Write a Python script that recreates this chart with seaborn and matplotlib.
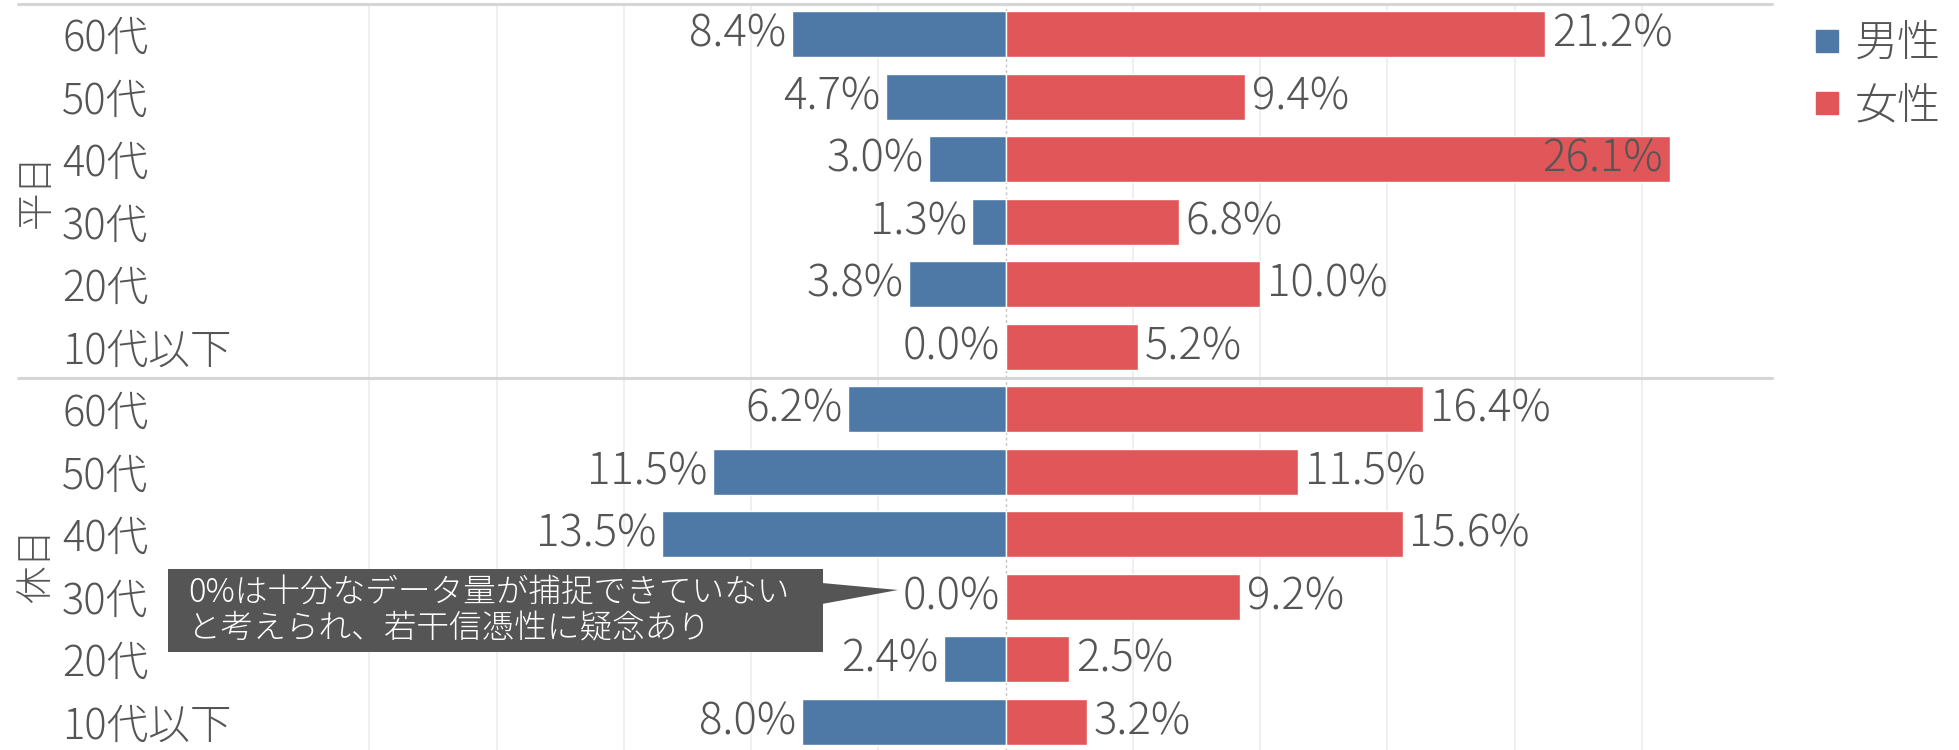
import pandas as pd
import matplotlib
matplotlib.use("Agg")
import matplotlib.pyplot as plt
from matplotlib.lines import Line2D
from matplotlib.patches import Rectangle, Polygon
import seaborn as sns

# ---- data -------------------------------------------------------------
ages = ["60代", "50代", "40代", "30代", "20代", "10代以下"]
groups = ["平日", "休日"]
sexes = ["男性", "女性"]
weekday_male = [8.4, 4.7, 3.0, 1.3, 3.8, 0.0]
weekday_female = [21.2, 9.4, 26.1, 6.8, 10.0, 5.2]
holiday_male = [6.2, 11.5, 13.5, 0.0, 2.4, 8.0]
holiday_female = [16.4, 11.5, 15.6, 9.2, 2.5, 3.2]
note_text = "0%は十分なデータ量が捕捉できていない\nと考えられ、若干信憑性に疑念あり"

BLUE = "#4e79a7"
RED = "#e15759"
TEXT = "#555555"

series = {
    "平日": (weekday_male, weekday_female),
    "休日": (holiday_male, holiday_female),
}
records = []
for g in groups:
    male, female = series[g]
    for a, m, f in zip(ages, male, female):
        records.append({"group": g, "age": a, "sex": "男性", "value": m, "signed": -m})
        records.append({"group": g, "age": a, "sex": "女性", "value": f, "signed": f})
df = pd.DataFrame(records)

# ---- style ------------------------------------------------------------
sns.set_theme(style="white")
plt.rcParams["font.family"] = ["Noto Sans CJK JP", "DejaVu Sans"]
plt.rcParams["font.weight"] = "light"

W, H = 1959, 750


def fx(px):
    return px / W


def fy(py):
    return 1 - py / H


fig = plt.figure(figsize=(W / 100, H / 100), dpi=100)

pane_left, pane_right = 242, 1769
pane_tops = [3, 378]
pane_h = 375
XMAX = 30
VALUE_FS = 31.5

axes = []
for g, top in zip(groups, pane_tops):
    ax = fig.add_axes([fx(pane_left), fy(top + pane_h),
                       (pane_right - pane_left) / W, pane_h / H])
    sub = df[df["group"] == g]
    sns.barplot(data=sub, x="signed", y="age", hue="sex", order=ages,
                hue_order=sexes, palette=[BLUE, RED], dodge=False,
                width=0.74, orient="h", errorbar=None, saturation=1,
                legend=False, ax=ax)
    ax.set_xlim(-XMAX, XMAX)
    ax.set_ylim(len(ages) - 0.5, -0.5)
    ax.set_xlabel("")
    ax.set_ylabel("")
    for s in ax.spines.values():
        s.set_visible(False)

    # gridlines every 5 %, dashed zero line
    ax.set_xticks([-25, -20, -15, -10, -5, 5, 10, 15, 20, 25])
    ax.tick_params(axis="x", length=0, labelbottom=False)
    ax.grid(axis="x", color="#ececec", lw=1.2)
    ax.grid(axis="y", visible=False)
    ax.set_axisbelow(True)
    ax.axvline(0, color="#c4c4c4", lw=1, ls=(0, (2, 2)), zorder=0.5)

    # age labels, left-aligned in the header column
    ax.set_yticks(range(len(ages)), ages)
    ax.tick_params(axis="y", length=0, pad=(pane_left - 62) * 0.72,
                   labelsize=30, labelcolor=TEXT)
    for lbl in ax.get_yticklabels():
        lbl.set_horizontalalignment("left")

    # value labels
    male, female = series[g]
    for i, (m, f) in enumerate(zip(male, female)):
        ax.annotate(f"{m:.1f}%", xy=(-m, i), xytext=(-4, 0),
                    textcoords="offset points", ha="right", va="center",
                    fontsize=VALUE_FS, color=TEXT)
        if f > XMAX - 5:
            # long bar: keep the label inside the bar end
            ax.annotate(f"{f:.1f}%", xy=(f, i), xytext=(-5, 0),
                        textcoords="offset points", ha="right", va="center",
                        fontsize=VALUE_FS, color=TEXT)
        else:
            ax.annotate(f"{f:.1f}%", xy=(f, i), xytext=(5, 0),
                        textcoords="offset points", ha="left", va="center",
                        fontsize=VALUE_FS, color=TEXT)
    axes.append(ax)

# group headers
for g, top in zip(groups, pane_tops):
    fig.text(fx(36), fy(top + pane_h / 2), g, rotation=90, ha="center",
             va="center", fontsize=27, color=TEXT)

# horizontal rules at the top and between groups
for y in (4, 378):
    fig.add_artist(Line2D([fx(18), fx(1772)], [fy(y), fy(y)],
                          color="#d6d6d6", lw=2.2))

# legend
handles = [Line2D([], [], ls="", marker="s", markersize=16, color=c, label=s)
           for s, c in zip(sexes, [BLUE, RED])]
fig.legend(handles=handles, loc="upper left", bbox_to_anchor=(fx(1788), fy(4)),
           frameon=False, fontsize=31, handletextpad=0.15, labelspacing=0.4,
           labelcolor=TEXT, handlelength=1.0, borderaxespad=0)

# callout on the holiday 30代 male value
fig.add_artist(Rectangle((fx(168), fy(652)), (823 - 168) / W, (652 - 569) / H,
                         transform=fig.transFigure, color="#555555", lw=0))
fig.add_artist(Polygon([(fx(822), fy(583)), (fx(898), fy(590)), (fx(822), fy(604))],
                       closed=True, transform=fig.transFigure, color="#555555", lw=0))
fig.text(fx(188), fy(611), note_text, color="white", fontsize=23.5,
         ha="left", va="center", linespacing=1.1)

fig.savefig("out.png", dpi=100)
